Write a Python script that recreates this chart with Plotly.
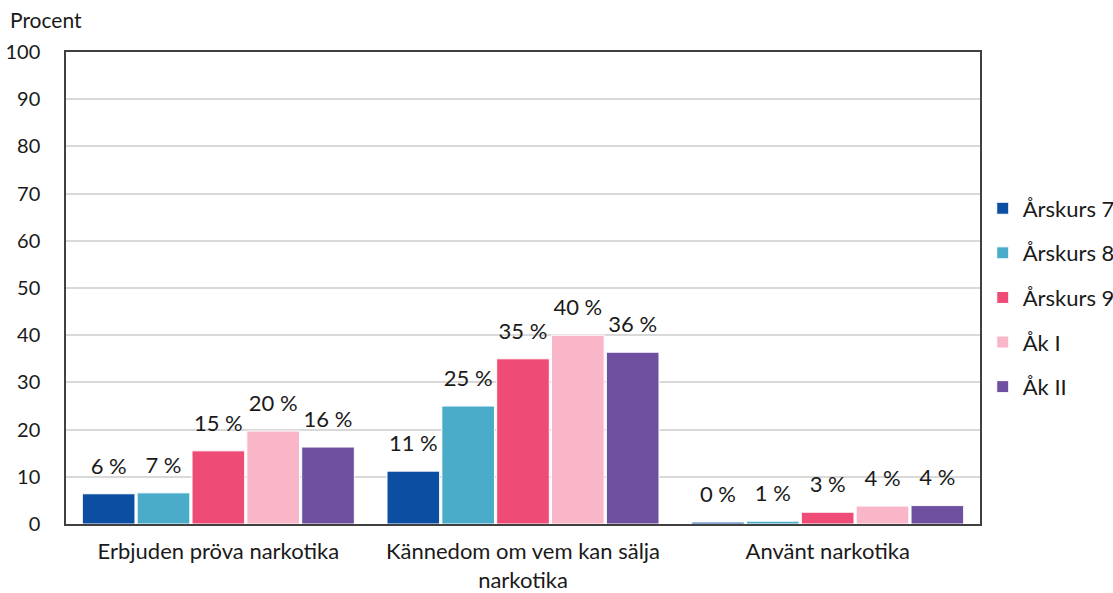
import plotly.graph_objects as go

categories = ["Erbjuden pröva narkotika", "Kännedom om vem kan sälja<br>narkotika", "Använt narkotika"]
series_names = ["Årskurs 7", "Årskurs 8", "Årskurs 9", "Åk I", "Åk II"]
values = [
    [6.4, 11.2, 0.4],
    [6.6, 25.0, 0.6],
    [15.5, 35.0, 2.5],
    [19.7, 40.0, 3.8],
    [16.3, 36.4, 3.9],
]
labels = [
    ["6 %", "11 %", "0 %"],
    ["7 %", "25 %", "1 %"],
    ["15 %", "35 %", "3 %"],
    ["20 %", "40 %", "4 %"],
    ["16 %", "36 %", "4 %"],
]
colors = ["#0B4EA2", "#4BACC9", "#EE4C76", "#F8B6C8", "#6E4FA0"]

FONT = "Lato, 'Open Sans', sans-serif"
FS = 22

fig = go.Figure()
for i, name in enumerate(series_names):
    fig.add_trace(go.Bar(
        name=name, x=categories, y=values[i],
        marker=dict(color=colors[i], line=dict(color="white", width=1)),
        legendgroup=name, offsetgroup=str(i),
    ))
for i, name in enumerate(series_names):
    fig.add_trace(go.Scatter(
        x=categories, y=values[i], mode="markers+text",
        text=labels[i], textposition="top center",
        marker=dict(size=22, opacity=0, color=colors[i]),
        textfont=dict(size=FS, color="#1a1a1a", family=FONT),
        cliponaxis=False, showlegend=False, hoverinfo="skip",
        offsetgroup=str(i), legendgroup=name,
    ))

fig.update_layout(
    width=1113, height=593,
    barmode="group", bargap=0.1, bargroupgap=0.04,
    scattermode="group", scattergap=0.1,
    plot_bgcolor="white", paper_bgcolor="white",
    margin=dict(l=66, r=133, t=52, b=69, autoexpand=False),
    font=dict(family=FONT, size=FS, color="#1a1a1a"),
    showlegend=True,
    legend=dict(x=1.003, xanchor="left", y=0.48, yanchor="middle",
                font=dict(size=FS), tracegroupgap=13, itemwidth=30,
                bgcolor="rgba(0,0,0,0)"),
)
fig.add_annotation(text="Procent", xref="paper", yref="paper", x=-0.0635, y=1.068,
                   xanchor="left", yanchor="middle", showarrow=False,
                   font=dict(size=FS - 1))
fig.update_yaxes(range=[0, 100], dtick=10, showgrid=True, gridcolor="#D9D9D9",
                 gridwidth=1.5, showline=True, linecolor="#404040", linewidth=1.5,
                 mirror=True, ticks="", tickfont=dict(size=20), zeroline=False,
                 ticklabelstandoff=20)
fig.update_xaxes(showline=True, linecolor="#404040", linewidth=1.5, mirror=True,
                 ticks="", tickfont=dict(size=FS), ticklabelstandoff=7)

fig.write_html(
    "out.html",
    config={"displayModeBar": False},
    post_script="document.body.style.margin='0';document.body.style.overflow='hidden';",
)
